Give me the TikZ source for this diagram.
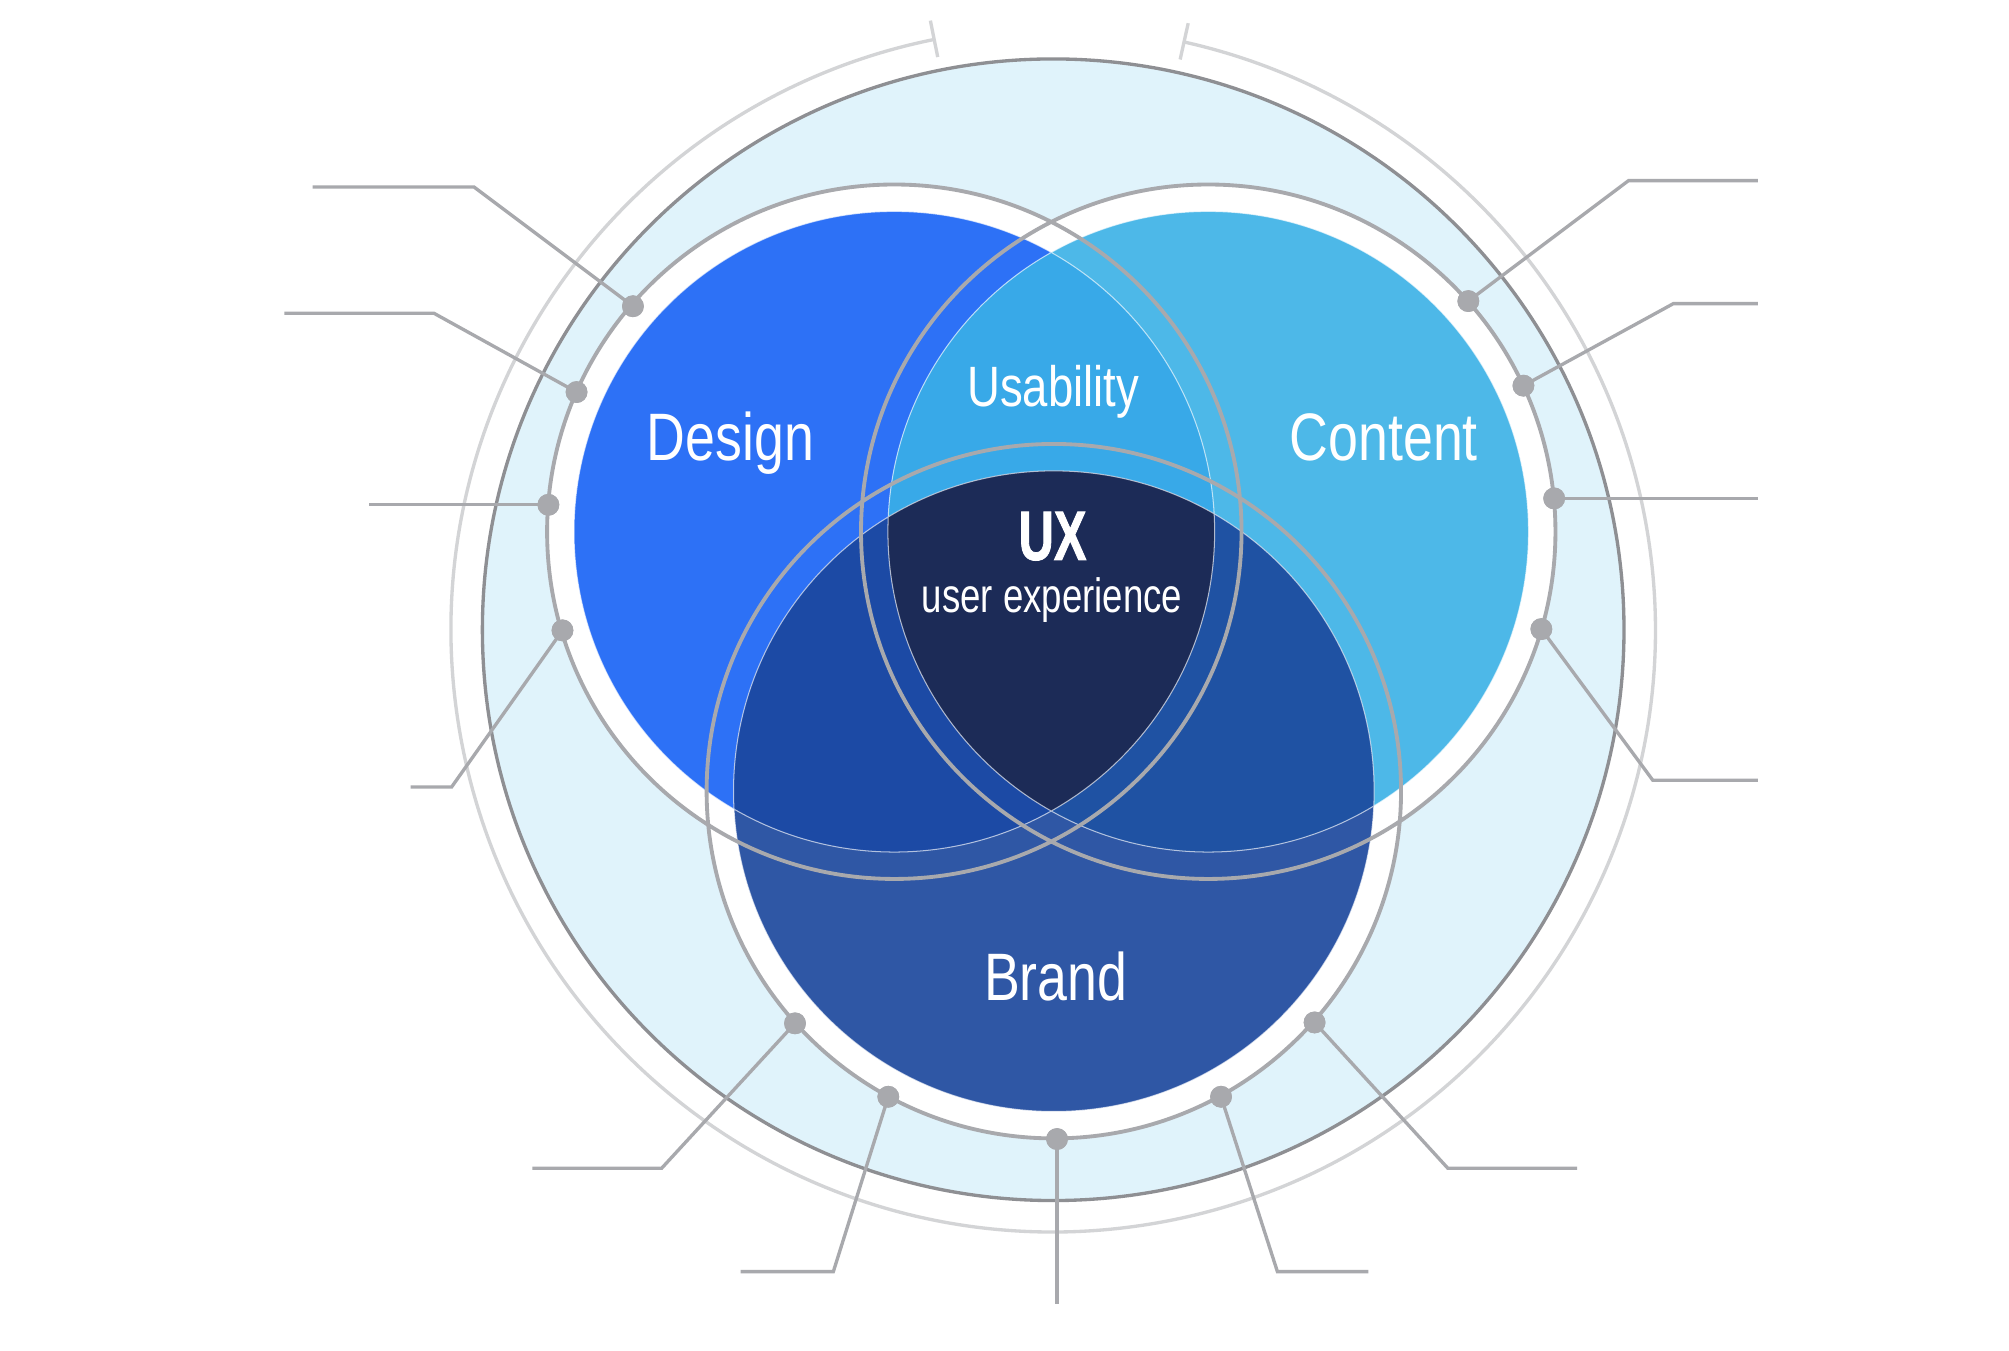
\documentclass[tikz,border=0pt]{standalone}
\usepackage{fontspec}
\newfontfamily\condfont[FakeStretch=0.8]{Liberation Sans}
\newfontfamily\uefont[FakeStretch=0.76]{Liberation Sans}
\newfontfamily\uxfont[FakeStretch=0.70,BoldFeatures={FakeBold=1.2}]{Liberation Sans}
\definecolor{designC}{RGB}{45,113,246}
\definecolor{contentC}{RGB}{77,184,232}
\definecolor{brandC}{RGB}{47,87,165}
\definecolor{usabC}{RGB}{56,169,232}
\definecolor{dbC}{RGB}{28,74,165}
\definecolor{cbC}{RGB}{31,82,163}
\definecolor{uxC}{RGB}{28,43,87}
\definecolor{bgblue}{RGB}{224,243,251}
\definecolor{ringgray}{RGB}{168,169,173}
\definecolor{biggray}{RGB}{142,143,147}
\definecolor{arcgray}{RGB}{211,212,214}
\begin{document}
\begin{tikzpicture}[x=1pt,y=-1pt,
  ring/.style={draw=ringgray,line width=3pt},
  lead/.style={draw=ringgray,line width=2.6pt},
  dot/.style={circle,fill=ringgray,inner sep=0pt,minimum size=17pt},
  outerarc/.style={draw=arcgray,line width=2.6pt},
  edge/.style={draw=white,draw opacity=0.65,line width=0.8pt},
  big/.style={font=\condfont\fontsize{52.4}{60}\selectfont,text=white,inner sep=0pt,anchor=base},
  mid/.style={font=\condfont\fontsize{44.4}{52}\selectfont,text=white,inner sep=0pt,anchor=base},
  ux/.style={font=\uxfont\bfseries\fontsize{54.5}{60}\selectfont,text=white,inner sep=0pt,anchor=base},
  uxsub/.style={font=\uefont\fontsize{37.6}{44}\selectfont,text=white,inner sep=0pt,anchor=base}]
\useasboundingbox (0,0) rectangle (1568,1054);
\fill[white] (0,0) rectangle (1568,1054);
\coordinate (O) at (822,491.5);
\coordinate (D) at (698,415);
\coordinate (C) at (943,415);
\coordinate (B) at (822.5,617.5);
% big light circle
\fill[bgblue] (O) circle (445.5pt);
\draw[biggray,line width=2.6pt] (O) circle (445.5pt);
% outer arc with ticks
\draw[outerarc] (O) ++(101.4:470pt) arc[start angle=101.4,end angle=437.45,radius=470pt];
\draw[outerarc] (O) ++(101.4:456pt) -- ++(101.4:29pt);
\draw[outerarc] (O) ++(77.45:456pt) -- ++(77.45:29pt);
% white bands
\fill[white] (D) circle (271pt) (C) circle (271pt) (B) circle (271pt);
% coloured circles
\fill[designC] (D) circle (250pt);
\fill[contentC] (C) circle (250pt);
\fill[brandC] (B) circle (250pt);
\begin{scope}
  \clip (D) circle (250pt);
  \fill[usabC] (C) circle (250pt);
  \fill[dbC] (B) circle (250pt);
\end{scope}
\begin{scope}
  \clip (C) circle (250pt);
  \fill[cbC] (B) circle (250pt);
\end{scope}
\begin{scope}
  \clip (D) circle (250pt);
  \clip (C) circle (250pt);
  \fill[uxC] (B) circle (250pt);
\end{scope}
\draw[edge] (D) circle (250pt) (C) circle (250pt) (B) circle (250pt);
% grey rings
\draw[ring] (D) circle (271pt) (C) circle (271pt) (B) circle (271pt);
% dots
\node[dot] (d1) at (494,239) {};
\node[dot] (d2) at (450,306) {};
\node[dot] (d3) at (428,394) {};
\node[dot] (d4) at (439,492) {};
\node[dot] (d5) at (620.5,798.7) {};
\node[dot] (d6) at (693.3,856) {};
\node[dot] (d7) at (825,889) {};
\node[dot] (d8) at (953,856) {};
\node[dot] (d9) at (1026,798) {};
\node[dot] (d10) at (1146,235) {};
\node[dot] (d11) at (1189,301) {};
\node[dot] (d12) at (1213,389) {};
\node[dot] (d13) at (1203,491) {};
% leader bends and ends
\coordinate (b1) at (370,146);   \coordinate (e1) at (244,146);
\coordinate (b2) at (338.7,244.5); \coordinate (e2) at (222,244.5);
\coordinate (e3) at (288,394);
\coordinate (b4) at (352.5,614.2); \coordinate (e4) at (320.5,614.2);
\coordinate (b5) at (516.4,911.8); \coordinate (e5) at (415.5,911.8);
\coordinate (b6) at (650.4,992.5); \coordinate (e6) at (578,992.5);
\coordinate (e7) at (825,1018);
\coordinate (b8) at (997,992.5); \coordinate (e8) at (1068,992.5);
\coordinate (b9) at (1130,911.8); \coordinate (e9) at (1231,911.8);
\coordinate (b10) at (1271,141); \coordinate (e10) at (1372,141);
\coordinate (b11) at (1306,237); \coordinate (e11) at (1372,237);
\coordinate (e12) at (1372,389);
\coordinate (b13) at (1290,609); \coordinate (e13) at (1372,609);
\draw[lead] (d1.center) -- (b1) -- (e1);
\draw[lead] (d2.center) -- (b2) -- (e2);
\draw[lead] (d3.center) -- (e3);
\draw[lead] (d4.center) -- (b4) -- (e4);
\draw[lead] (d5.center) -- (b5) -- (e5);
\draw[lead] (d6.center) -- (b6) -- (e6);
\draw[lead] (d7.center) -- (e7);
\draw[lead] (d8.center) -- (b8) -- (e8);
\draw[lead] (d9.center) -- (b9) -- (e9);
\draw[lead] (d10.center) -- (b10) -- (e10);
\draw[lead] (d11.center) -- (b11) -- (e11);
\draw[lead] (d12.center) -- (e12);
\draw[lead] (d13.center) -- (b13) -- (e13);
% redraw dots on top of leaders
\foreach \n in {d1,d2,d3,d4,d5,d6,d7,d8,d9,d10,d11,d12,d13}
  \fill[ringgray] (\n.center) circle (8.5pt);
% labels
\node[big] (design) at (570,359.6) {Design};
\node[big] (content) at (1080,359.6) {Content};
\node[big] (brand) at (824,781) {Brand};
\node[mid] (usab) at (822,317.4) {Usability};
\node[ux] (uxl) at (821.5,437) {UX};
\node[uxsub] (uxs) at (821,478.4) {user experience};
\end{tikzpicture}
\end{document}
